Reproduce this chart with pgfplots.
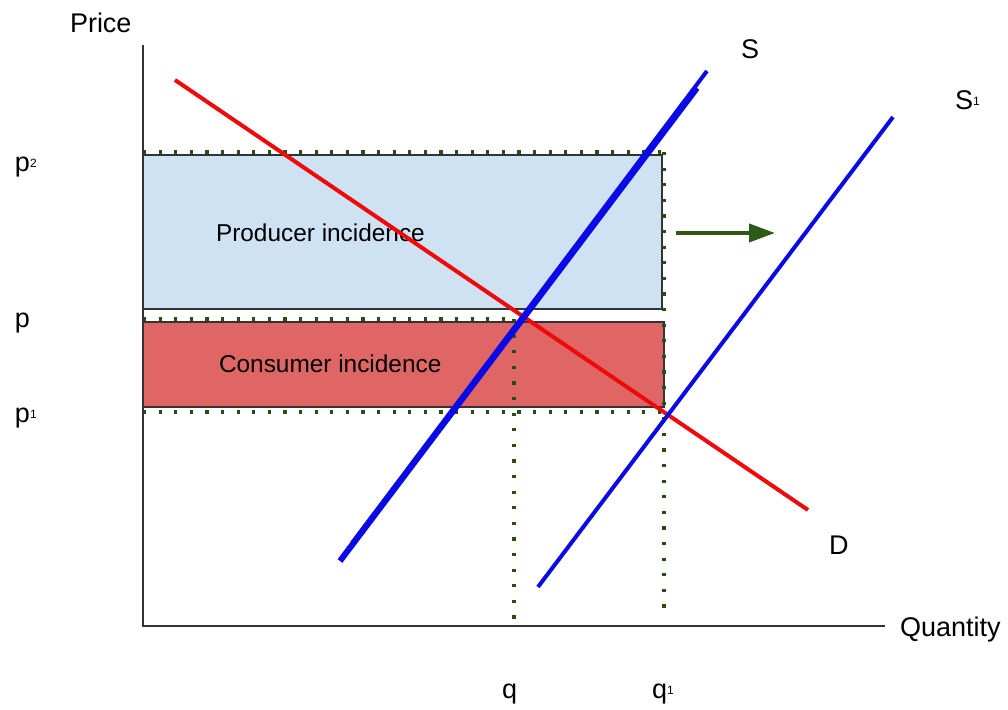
\documentclass[border=0pt]{standalone}
\usepackage{fontspec}
\setmainfont{Liberation Sans}
\usepackage{pgfplots}
\pgfplotsset{compat=1.18}
\usetikzlibrary{arrows.meta}
\definecolor{lblue}{HTML}{CFE2F3}
\definecolor{lred}{HTML}{E06666}
\definecolor{dgreen}{HTML}{274E13}
\definecolor{agreen}{HTML}{2E5A17}
\definecolor{sblue}{HTML}{0A0AE6}
\definecolor{dred}{HTML}{EE0A0A}
\definecolor{axgray}{HTML}{333333}
\newcommand{\sub}[1]{\raisebox{2.2pt}{\fontsize{6}{7}\selectfont #1}}
\tikzset{lab/.style={anchor=base west, inner sep=0pt, outer sep=0pt, font=\fontsize{13.5}{16}\selectfont},
         inlab/.style={anchor=base west, inner sep=0pt, outer sep=0pt, font=\fontsize{12.2}{14}\selectfont}}
\begin{document}
\begin{tikzpicture}
\begin{axis}[
  scale only axis, width=504pt, height=355pt,
  xmin=0, xmax=1008, ymin=0, ymax=710, y dir=reverse,
  hide axis, clip=false,
]
\coordinate (bl) at (axis cs:0,710);
\coordinate (tr) at (axis cs:1008,0);
% rectangles
\addplot[fill=lblue, draw=axgray, line width=0.6pt, no marks] coordinates {(143,155) (662,155) (662,309) (143,309) (143,155)};
\addplot[fill=lred, draw=axgray, line width=0.6pt, no marks] coordinates {(143,322) (664,322) (664,407) (143,407) (143,322)};
% dotted guides
\addplot[dgreen, line width=1.6pt, dash pattern=on 1.6pt off 6.2pt, no marks] coordinates {(143,152) (664,152)};
\addplot[dgreen, line width=1.6pt, dash pattern=on 1.6pt off 6.2pt, no marks] coordinates {(143,319) (517,319)};
\addplot[dgreen, line width=1.6pt, dash pattern=on 1.6pt off 6.2pt, no marks] coordinates {(143,412) (664,412)};
\addplot[dgreen, line width=1.6pt, dash pattern=on 1.6pt off 6.2pt, no marks] coordinates {(664,152) (664,612)};
\addplot[dgreen, line width=1.6pt, dash pattern=on 1.6pt off 6.2pt, no marks] coordinates {(514,319) (514,622)};
% axes
\addplot[axgray, line width=1pt, no marks] coordinates {(143,45) (143,626) (885,626)};
% labels inside
\node[inlab] at (axis cs:216,242) {Producer incidence};
\node[inlab] at (axis cs:219,373) {Consumer incidence};
% demand
\addplot[dred, line width=2pt, no marks] coordinates {(175,80) (808,510)};
% supply S
\addplot[sblue, line width=3pt, no marks] coordinates {(340,561) (697,88)};
\addplot[sblue, line width=2pt, no marks] coordinates {(352,543) (707,71)};
% supply S1
\addplot[sblue, line width=2pt, no marks] coordinates {(538,587) (893,117)};
% arrow
\addplot[agreen, line width=2pt, no marks, -{Triangle[length=13pt,width=9pt]}] coordinates {(676,233) (775,233)};
% text labels
\node[lab] at (axis cs:70,33) {Price};
\node[lab] at (axis cs:900,637) {Quantity};
\node[lab] at (axis cs:741,59) {S};
\node[lab] at (axis cs:955,110) {S\sub{1}};
\node[lab] at (axis cs:829,555) {D};
\node[lab] at (axis cs:15,172) {p\sub{2}};
\node[lab] at (axis cs:15,328) {p};
\node[lab] at (axis cs:15,423) {p\sub{1}};
\node[lab] at (axis cs:502,699) {q};
\node[lab] at (axis cs:652,699) {q\sub{1}};
\end{axis}
\pgfresetboundingbox
\useasboundingbox (bl) rectangle (tr);
\end{tikzpicture}
\end{document}
